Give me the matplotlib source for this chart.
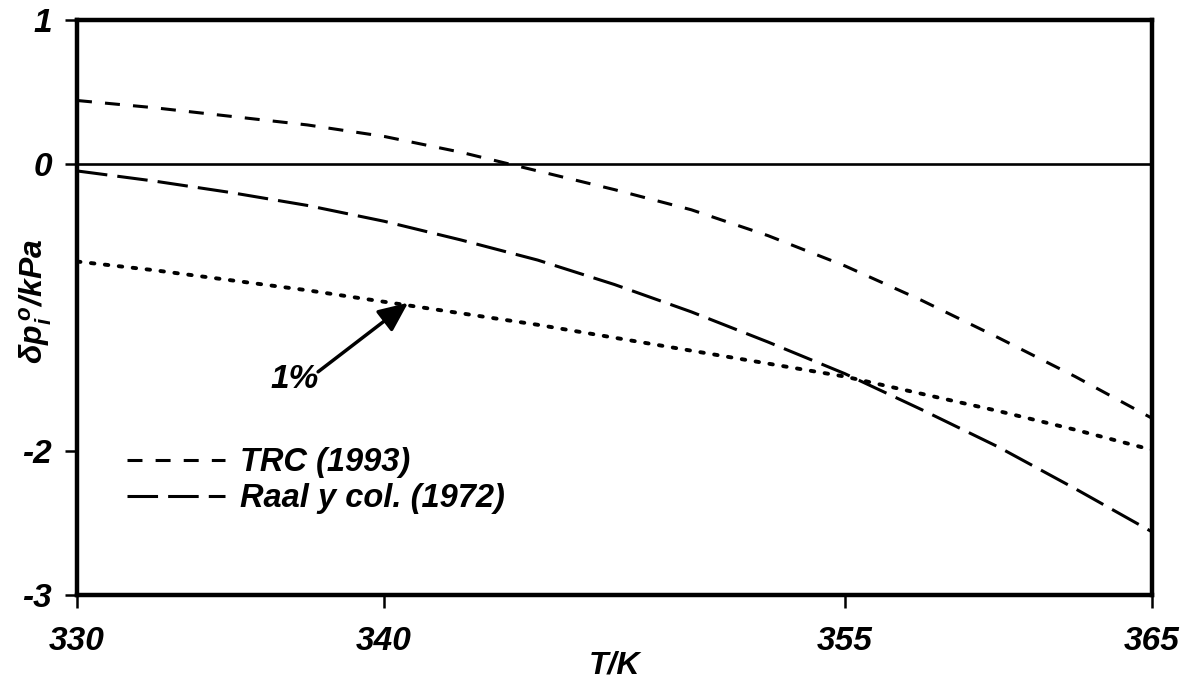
import matplotlib.pyplot as plt

plt.rcParams['font.family'] = 'Liberation Sans'
plt.rcParams['font.weight'] = 'bold'
plt.rcParams['font.style'] = 'italic'
plt.rcParams['axes.labelweight'] = 'bold'
plt.rcParams['axes.unicode_minus'] = False
plt.rcParams['mathtext.fontset'] = 'custom'
plt.rcParams['mathtext.rm'] = 'Liberation Sans:bold:italic'
plt.rcParams['mathtext.it'] = 'Liberation Sans:bold:italic'
plt.rcParams['mathtext.bf'] = 'Liberation Sans:bold:italic'

# temperature grid (K) and deviations (kPa)
T = [330, 332.5, 335, 337.5, 340, 342.5, 345, 347.5, 350, 352.5, 355, 357.5, 360, 362.5, 365]
trc = [0.44, 0.39, 0.33, 0.27, 0.19, 0.08, -0.05, -0.18, -0.32, -0.50, -0.71, -0.95, -1.21, -1.48, -1.77]
raal = [-0.05, -0.12, -0.20, -0.29, -0.40, -0.53, -0.67, -0.84, -1.03, -1.24, -1.46, -1.71, -1.97, -2.26, -2.56]
one_pct = [-0.68, -0.74, -0.81, -0.88, -0.96, -1.04, -1.12, -1.21, -1.30, -1.39, -1.48, -1.60, -1.72, -1.85, -1.99]

xticks = [330, 340, 355, 365]
yticks = [1, 0, -2, -3]

fig = plt.figure(figsize=(11.92, 6.84), dpi=100)
ax = fig.add_axes([0.0646, 0.130, 0.9018, 0.8408])

ax.axhline(0, color='black', lw=1.9, zorder=1)
ax.plot(T, trc, color='black', lw=2.2, linestyle=(0, (4.9, 4.3)), label='TRC (1993)')
ax.plot(T, raal, color='black', lw=2.2, linestyle=(0, (10, 3.3)), label='Raal y col. (1972)')
ax.plot(T, one_pct, color='black', lw=2.8, linestyle=(0, (0.9, 2.7)), dash_capstyle='round')

# arrow pointing at the 1 % curve
ax.annotate('', xy=(340.78, -0.967), xytext=(337.85, -1.447),
            arrowprops=dict(arrowstyle='-|>,head_length=0.9,head_width=0.4',
                            mutation_scale=20, color='black', lw=2.5,
                            shrinkA=0, shrinkB=0))
ax.text(337.1, -1.503, '1%', fontsize=24, ha='center', va='center')

ax.set_xlim(330, 365)
ax.set_ylim(-3, 1)
ax.set_xticks(xticks)
ax.set_yticks(yticks)
ax.tick_params(axis='both', direction='out', length=9, width=1.8, labelsize=24)
ax.tick_params(axis='x', pad=13)
ax.tick_params(axis='y', pad=9)
for s in ax.spines.values():
    s.set_linewidth(3.2)

ax.set_xlabel('T/K', fontsize=23)
ax.xaxis.set_label_coords(0.5, -0.097)
ax.set_ylabel(r'$\delta p_i^{\,o}$/kPa', fontsize=23)
ax.yaxis.set_label_coords(-0.021, 0.51)

ax.legend(loc='upper left', bbox_to_anchor=(0.0465, 0.257), frameon=False,
          borderpad=0, borderaxespad=0, fontsize=23.5, handlelength=3.0,
          handletextpad=0.46, labelspacing=0.16)

fig.savefig('out.png', dpi=100)
